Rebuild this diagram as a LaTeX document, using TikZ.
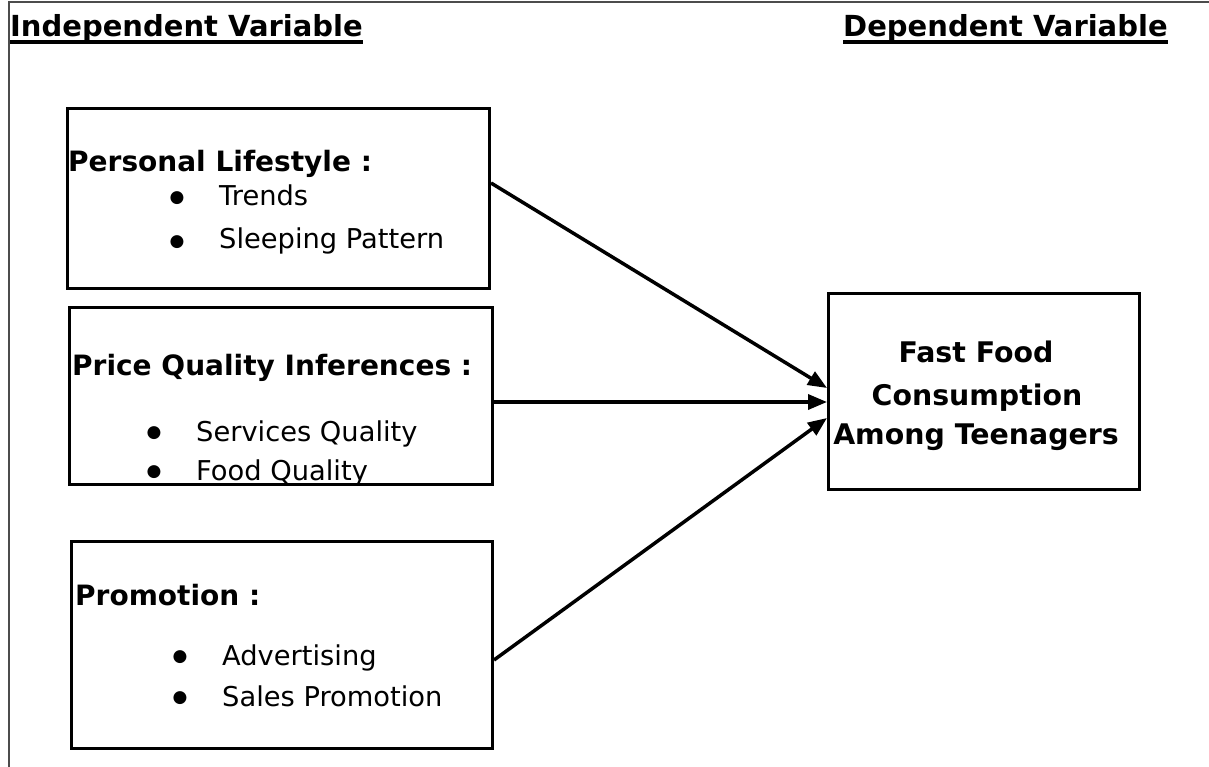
\documentclass[tikz,border=0pt]{standalone}
\usepackage{fontspec}
\setmainfont{DejaVu Sans}
\usetikzlibrary{arrows.meta}
\begin{document}
\begin{tikzpicture}[x=1pt,y=-1pt,
  frame/.style={draw=black!70,line width=1.5pt},
  box/.style={draw,line width=3pt,minimum width=#1,inner sep=0pt,anchor=north west},
  txt/.style={anchor=base west,inner sep=0pt,font=\fontsize{27.3}{32}\selectfont},
  bul/.style={anchor=center,inner sep=0pt,font=\fontsize{17}{20}\selectfont},
  btxt/.style={anchor=base west,inner sep=0pt,font=\fontsize{28}{32}\selectfont\bfseries},
  ttxt/.style={anchor=base west,inner sep=0pt,font=\fontsize{29}{32}\selectfont\bfseries},
  ctxt/.style={anchor=base,inner sep=0pt,font=\fontsize{28.4}{32}\selectfont\bfseries},
  conn/.style={line width=3.5pt,-{Triangle[length=19pt,width=15pt]}}]
\useasboundingbox (0,0) rectangle (1209,767);
% frame
\coordinate (ftl) at (9,2);
\coordinate (ftr) at (1209,2);
\coordinate (fbl) at (9,767);
\draw[frame] (ftr) -- (ftl) -- (fbl);
% titles
\node[ttxt] (ti) at (10,37) {Independent Variable};
\node[ttxt] (td) at (843,37) {Dependent Variable};
\draw[line width=3.5pt] ([yshift=-5pt]ti.base west) -- ([yshift=-5pt]ti.base east);
\draw[line width=3.5pt] ([yshift=-5pt]td.base west) -- ([yshift=-5pt]td.base east);
% boxes
\node[box=422pt,minimum height=180pt] (b1) at (66,107) {};
\node[box=423pt,minimum height=177pt] (b2) at (68,306) {};
\node[box=421pt,minimum height=207pt] (b3) at (70,540) {};
\node[box=311pt,minimum height=196pt] (b4) at (827,292) {};
% box 1 text
\node[btxt] (h1) at (68,172) {Personal Lifestyle :};
\node[bul] (u1) at (177,198) {●};
\node[txt] (l1) at (219,206) {Trends};
\node[bul] (u2) at (177,242) {●};
\node[txt] (l2) at (219,249) {Sleeping Pattern};
% box 2 text
\node[btxt] (h2) at (72,375) {Price Quality Inferences :};
\node[bul] (u3) at (154,433) {●};
\node[txt] (l3) at (196,441) {Services Quality};
\node[bul] (u4) at (154,472) {●};
\node[txt] (l4) at (196,480) {Food Quality};
% box 3 text
\node[btxt] (h3) at (75,605) {Promotion :};
\node[bul] (u5) at (180,657) {●};
\node[txt] (l5) at (222,665) {Advertising};
\node[bul] (u6) at (180,698) {●};
\node[txt] (l6) at (222,706) {Sales Promotion};
% box 4 text
\node[ctxt] (r1) at (976,362) {Fast Food};
\node[ctxt] (r2) at (977,405) {Consumption};
\node[ctxt] (r3) at (976,444) {Among Teenagers};
% connectors
\coordinate (s1) at (b1.east |- 0,183);
\coordinate (s2) at (b2.east |- 0,402);
\coordinate (s3) at (b3.east |- 0,660);
\coordinate (e1) at (b4.west |- 0,388);
\coordinate (e2) at (b4.west |- 0,402);
\coordinate (e3) at (b4.west |- 0,418);
\draw[conn] (s1) -- (e1);
\draw[conn] (s2) -- (e2);
\draw[conn] (s3) -- (e3);
\end{tikzpicture}
\end{document}
